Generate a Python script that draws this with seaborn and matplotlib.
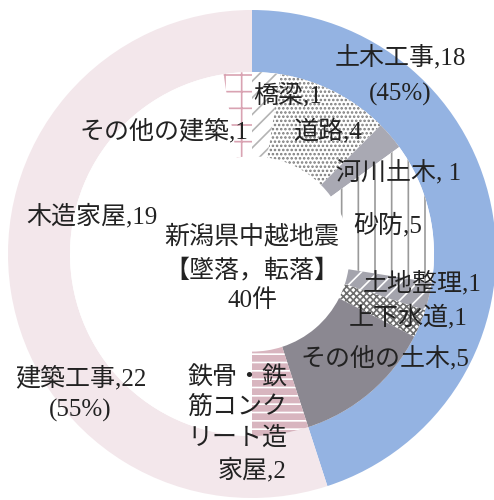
import matplotlib
matplotlib.use("Agg")
import matplotlib.pyplot as plt
import seaborn as sns

# Outer ring: construction type
outer_labels = ["土木工事", "建築工事"]
outer_values = [18, 22]
outer_pct = ["45%", "55%"]

# Inner ring: breakdown, clockwise from 12 o'clock
inner_labels = ["橋梁", "道路", "河川土木", "砂防", "土地整理", "上下水道",
                "その他の土木", "鉄骨・鉄筋コンクリート造家屋", "木造家屋", "その他の建築"]
inner_values = [1, 4, 1, 5, 1, 1, 5, 2, 19, 1]

center_lines = ["新潟県中越地震", "【墜落，転落】", "40件"]

sns.set_theme(style="white")
plt.rcParams["font.family"] = ["Liberation Serif", "Noto Sans CJK JP"]
plt.rcParams["hatch.linewidth"] = 1.2

W, H = 494, 500
CX, CY, R = 252, 254, 244  # pixel centre / radius of the ring

fig = plt.figure(figsize=(W / 100, H / 100), dpi=100)
ax = fig.add_axes([0, 0, 1, 1])

R_OUT = 1.0
R_MID = 0.746
R_HOLE = 0.40

outer_style = [
    dict(fc="#94B3E2", ec="#94B3E2", hatch=None),
    dict(fc="#F3E7EB", ec="#F3E7EB", hatch=None),
]
inner_style = [
    dict(fc="white", ec="#B4B4B4", hatch="//"),
    dict(fc="white", ec="#7A7A7A", hatch="...."),
    dict(fc="#A9A9B3", ec="#A9A9B3", hatch=None),
    dict(fc="white", ec="#9A9A9A", hatch="|"),
    dict(fc="#A4A4AD", ec="white", hatch="//"),
    dict(fc="white", ec="#6E6E6E", hatch="xxxxx"),
    dict(fc="#8B8891", ec="#8B8891", hatch=None),
    dict(fc="#D8B5BF", ec="white", hatch="--"),
    dict(fc="white", ec="white", hatch=None),
    dict(fc="white", ec="#D9A3B2", hatch="+"),
]

wedges_out, _ = ax.pie(outer_values, radius=R_OUT, startangle=90, counterclock=False,
                       wedgeprops=dict(width=R_OUT - R_MID, linewidth=0))
for w, st in zip(wedges_out, outer_style):
    w.set_facecolor(st["fc"])
    w.set_edgecolor(st["ec"])
    w.set_linewidth(0)

wedges_in, _ = ax.pie(inner_values, radius=R_MID, startangle=90, counterclock=False,
                      wedgeprops=dict(width=R_MID - R_HOLE, linewidth=0))
for w, st in zip(wedges_in, inner_style):
    w.set_facecolor(st["fc"])
    w.set_edgecolor(st["ec"])
    w.set_linewidth(0)
    if st["hatch"]:
        w.set_hatch(st["hatch"])

# map full figure to data units so the ring sits at (CX, CY)
ax.set_xlim(-CX / R, (W - CX) / R)
ax.set_ylim(-(H - CY) / R, CY / R)
ax.set_aspect("auto")
ax.axis("off")


def P(px, py):
    return (px - CX) / R, (CY - py) / R


TXT = dict(fontsize=18, color="#222222", va="center")


def label(text, px, py, ha="center"):
    x, y = P(px, py)
    ax.text(x, y, text, ha=ha, **TXT)


# outer ring labels
label(f"{outer_labels[0]},{outer_values[0]}", 400, 57)
label(f"({outer_pct[0]})", 400, 94)
label(f"{outer_labels[1]},{outer_values[1]}", 81, 378)
label(f"({outer_pct[1]})", 80, 410)

# inner ring labels
label(f"{inner_labels[0]},{inner_values[0]}", 288, 96)
label(f"{inner_labels[1]},{inner_values[1]}", 328, 131)
label(f"{inner_labels[2]}, {inner_values[2]}", 399, 172)
label(f"{inner_labels[3]},{inner_values[3]}", 388, 225)
label(f"{inner_labels[4]},{inner_values[4]}", 422, 283)
label(f"{inner_labels[5]},{inner_values[5]}", 408, 317)
label(f"{inner_labels[6]},{inner_values[6]}", 385, 358)
label(f"{inner_labels[8]},{inner_values[8]}", 92, 216)
label(f"{inner_labels[9]},{inner_values[9]}", 164, 131)

# long label broken over four lines
rc_lines = ["鉄骨・鉄", "筋コンク", "リート造", f"家屋,{inner_values[7]}"]
for txt, py in zip(rc_lines, [377, 407, 438, 470]):
    label(txt, 287, py, ha="right")

# centre caption
for txt, py in zip(center_lines, [237, 271, 301]):
    label(txt, 252, py)

fig.savefig("out.png", dpi=100)
